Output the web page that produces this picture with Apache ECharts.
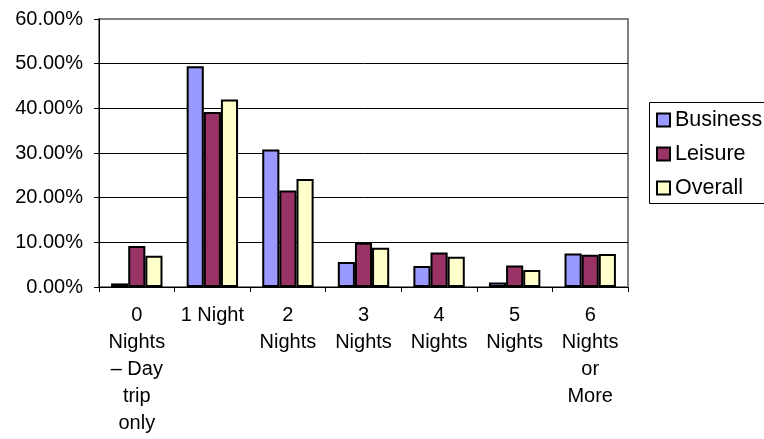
<!DOCTYPE html>
<html>
<head>
<meta charset="utf-8">
<script src="https://cdn.jsdelivr.net/npm/echarts@6/dist/echarts.min.js"></script>
<style>
  html, body { margin: 0; padding: 0; background: #fff; }
  #chart { width: 764px; height: 439px; }
</style>
</head>
<body>
<div id="chart"></div>
<script>
// Length of stay by trip purpose (share of trips, %)
const categories = [
  '0\nNights\n\u2013 Day\ntrip\nonly',
  '1 Night',
  '2\nNights',
  '3\nNights',
  '4\nNights',
  '5\nNights',
  '6\nNights\nor\nMore'
];
const business = [0.8, 49.4, 30.8, 5.6, 4.7, 1.0, 7.5];
const leisure  = [9.2, 39.2, 21.6, 9.9, 7.7, 4.8, 7.2];
const overall  = [7.0, 42.0, 24.2, 8.8, 6.8, 3.8, 7.4];
const seriesNames = ['Business', 'Leisure', 'Overall'];

const FONT = '"Liberation Sans", Arial, sans-serif';
const colors = ['#9999FF', '#993366', '#FFFFCC'];

const chart = echarts.init(document.getElementById('chart'), null, { renderer: 'canvas' });

function barSeries(name, data, color) {
  return {
    name: name,
    type: 'bar',
    data: data,
    barGap: '0%',
    barCategoryGap: '32%',
    itemStyle: { color: color, borderColor: '#000', borderWidth: 2 },
    emphasis: { disabled: true }
  };
}

chart.setOption({
  animation: false,
  backgroundColor: '#fff',
  grid: {
    left: 99, right: 136, top: 19, bottom: 152,
    show: true,
    borderColor: '#808080',
    borderWidth: 2,
    backgroundColor: 'transparent'
  },
  // legend frame: open on the right, where it runs off the canvas
  graphic: [{
    type: 'polyline',
    shape: { points: [[800, 102.5], [649.5, 102.5], [649.5, 203.5], [800, 203.5]] },
    style: { fill: null, stroke: '#000', lineWidth: 1 },
    silent: true
  }],
  legend: {
    orient: 'vertical',
    left: 649,
    top: 102,
    padding: [6, 10, 4, 7],
    itemGap: 10,
    itemWidth: 13,
    itemHeight: 13,
    icon: 'rect',
    data: seriesNames,
    itemStyle: { borderColor: '#000', borderWidth: 2 },
    textStyle: { fontFamily: FONT, fontSize: 21.5, color: '#000', lineHeight: 24 }
  },
  xAxis: {
    type: 'category',
    data: categories,
    axisLine: { lineStyle: { color: '#000', width: 1 } },
    axisTick: { show: true, length: 5, lineStyle: { color: '#000' } },
    axisLabel: {
      interval: 0,
      margin: 15,
      fontFamily: FONT,
      fontSize: 20,
      lineHeight: 27,
      color: '#000'
    },
    splitLine: { show: false }
  },
  yAxis: {
    type: 'value',
    min: 0,
    max: 60,
    interval: 10,
    axisLine: { show: true, lineStyle: { color: '#000', width: 1 } },
    axisTick: { show: true, length: 5, lineStyle: { color: '#000' } },
    axisLabel: {
      margin: 16,
      fontFamily: FONT,
      fontSize: 20,
      color: '#000',
      formatter: v => v.toFixed(2) + '%'
    },
    splitLine: {
      show: true,
      showMinLine: false,
      showMaxLine: false,
      lineStyle: { color: '#000', width: 1 }
    }
  },
  series: [
    barSeries(seriesNames[0], business, colors[0]),
    barSeries(seriesNames[1], leisure, colors[1]),
    barSeries(seriesNames[2], overall, colors[2])
  ]
});
</script>
</body>
</html>
